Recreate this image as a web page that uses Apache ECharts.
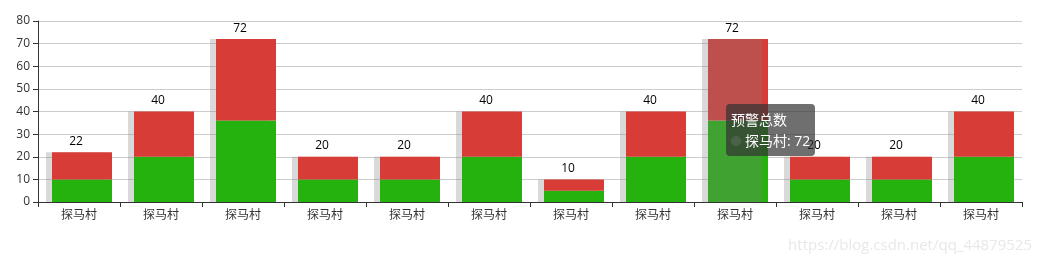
<!DOCTYPE html>
<html>
<head>
<meta charset="utf-8">
<script src="https://cdn.jsdelivr.net/npm/echarts@6/dist/echarts.min.js"></script>
<style>
html,body{margin:0;padding:0;background:#fff;}
#main{width:1042px;height:265px;}
</style>
</head>
<body>
<div id="main"></div>
<script>
const categories = ['探马村','探马村','探马村','探马村','探马村','探马村','探马村','探马村','探马村','探马村','探马村','探马村'];
const totalValues = [22, 40, 72, 20, 20, 40, 10, 40, 72, 20, 20, 40];
const greenValues = [10, 20, 36, 10, 10, 20, 5, 20, 36, 10, 10, 20];
const redValues   = [12, 20, 36, 10, 10, 20, 5, 20, 36, 10, 10, 20];
const seriesNames = ['预警总数', '正常', '预警'];
const watermark = 'https://blog.csdn.net/qq_44879525';

const FONT = '"Open Sans","Noto Sans CJK SC",sans-serif';
const GRAY = 'rgba(128,128,128,0.3)';
const GREEN = '#25b20f';
const RED = '#d73c37';

const chart = echarts.init(document.getElementById('main'));
chart.setOption({
  animation: false,
  textStyle: { fontFamily: FONT },
  grid: { left: 38, right: 20, top: 21, bottom: 63, containLabel: false },
  tooltip: {
    trigger: 'item',
    backgroundColor: 'rgba(50,50,50,0.7)',
    borderWidth: 0,
    padding: 5,
    transitionDuration: 0,
    textStyle: { color: '#fff', fontSize: 14, fontFamily: FONT },
    extraCssText: 'box-shadow:none;border-radius:4px;line-height:21px;',
    position: function () { return [726, 104]; },
    formatter: function (p) {
      return p.seriesName + '<br/>' + p.marker + p.name + ': ' + p.value;
    }
  },
  xAxis: {
    type: 'category',
    data: categories,
    axisLine: { show: true, lineStyle: { color: '#333' } },
    axisTick: { show: true, lineStyle: { color: '#333' } },
    axisLabel: { color: '#333', fontSize: 12, fontFamily: FONT, interval: 0 }
  },
  yAxis: {
    type: 'value',
    min: 0, max: 80, interval: 10,
    axisLine: { show: true, lineStyle: { color: '#333' } },
    axisTick: { show: true, lineStyle: { color: '#333' } },
    axisLabel: { color: '#333', fontSize: 12, fontFamily: FONT },
    splitLine: { show: true, lineStyle: { color: '#ccc' } }
  },
  series: [
    {
      name: seriesNames[0],
      type: 'bar',
      data: totalValues,
      barWidth: 60,
      barGap: '-90%',
      itemStyle: { color: GRAY },
      emphasis: { itemStyle: { color: GRAY } },
      label: { show: true, position: 'top', color: '#000', fontSize: 12, fontFamily: FONT }
    },
    {
      name: seriesNames[1],
      type: 'bar',
      stack: 'a',
      data: greenValues,
      barWidth: 60,
      barGap: '-90%',
      itemStyle: { color: GREEN },
      emphasis: { itemStyle: { color: GREEN } }
    },
    {
      name: seriesNames[2],
      type: 'bar',
      stack: 'a',
      data: redValues,
      barWidth: 60,
      barGap: '-90%',
      itemStyle: { color: RED },
      emphasis: { itemStyle: { color: RED } }
    }
  ],
  graphic: [{
    type: 'text',
    right: 10,
    bottom: 12,
    style: { text: watermark, fill: '#e8e8e8', font: '15px ' + FONT }
  }]
});
chart.dispatchAction({ type: 'highlight', seriesIndex: 0, dataIndex: 8 });
chart.dispatchAction({ type: 'showTip', seriesIndex: 0, dataIndex: 8 });
</script>
</body>
</html>
